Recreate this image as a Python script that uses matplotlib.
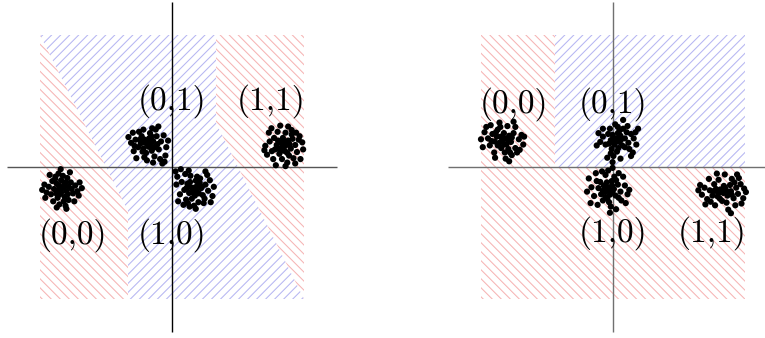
import numpy as np
import matplotlib
matplotlib.use("Agg")
import matplotlib.pyplot as plt
from matplotlib.patches import Polygon
from matplotlib.collections import LineCollection

W, H, DPI = 765, 338, 100
SCALE = 44.0  # pixels per data unit

# ---- decision regions (data units) ----
a_red_regions = [
    [(-3, 3), (-1, -1), (-1, -3), (-3, -3)],
    [(1, 3), (3, 3), (3, -3), (1, 1)],
]
a_blue_regions = [
    [(-3, 3), (1, 3), (1, 1), (3, -3), (-1, -3), (-1, -1)],
]
b_red_regions = [
    [(-3, 3), (-1.32, 3), (-1.32, 0), (3, 0), (3, -3), (-3, -3)],
]
b_blue_regions = [
    [(-1.32, 3), (3, 3), (3, 0), (-1.32, 0)],
]

# ---- cluster centres ----
a_centres = {"00": (-2.50, -0.48), "01": (-0.55, 0.50), "10": (0.50, -0.50), "11": (2.52, 0.48)}
b_centres = {"00": (-2.52, 0.61), "01": (0.07, 0.61), "10": (-0.11, -0.52), "11": (2.48, -0.57)}

# ---- sample offsets around each centre ----
a00 = [(0.00,0.00),(0.05,0.08),(-0.08,-0.04),(0.10,-0.07),(-0.12,0.10),(-0.02,0.18),(0.15,0.03),(-0.05,-0.14),(-0.18,-0.02),(0.06,-0.20),
       (0.20,0.13),(-0.22,0.16),(-0.10,-0.22),(0.12,0.23),(0.02,0.28),(-0.30,0.03),(0.25,-0.12),(-0.15,0.26),(0.15,-0.27),(-0.06,-0.37),
       (0.30,0.06),(-0.35,-0.10),(0.08,-0.40),(-0.20,-0.30),(0.35,-0.07),(-0.40,0.08),(-0.03,0.43),(-0.12,-0.44),(0.18,0.36),(0.40,0.13),
       (0.03,0.01),(-0.07,0.06),(-0.02,-0.10),(0.08,0.13),(-0.13,-0.12),(0.13,-0.14),(-0.25,-0.14),(0.22,-0.02),(-0.16,0.20),(0.04,-0.30),
       (0.45,0.00),(-0.28,0.30),(-0.45,-0.04),(0.10,-0.47),(-0.08,0.33),(0.28,-0.30),(0.38,-0.17),(-0.38,-0.22)]
a01 = [(0.00,0.00),(-0.06,0.05),(0.07,-0.03),(-0.10,-0.08),(0.12,0.09),(0.03,0.15),(-0.16,0.04),(0.09,-0.13),(0.18,-0.02),(-0.04,-0.18),
       (-0.22,-0.05),(0.20,0.20),(-0.14,0.20),(0.25,-0.10),(-0.28,0.12),(0.05,0.27),(-0.08,-0.28),(0.30,0.08),(-0.32,-0.14),(0.15,-0.26),
       (0.36,0.22),(-0.20,0.30),(0.10,0.38),(-0.38,0.05),(0.28,-0.32),(0.42,-0.05),(-0.26,-0.30),(0.18,0.35),(-0.44,0.18),(0.40,-0.24),
       (0.02,-0.04),(0.05,0.06),(-0.03,0.10),(-0.09,0.13),(0.14,-0.06),(-0.12,-0.15),(0.22,0.02),(-0.18,0.12),(0.08,0.20),(-0.02,-0.35),
       (0.46,0.10),(0.33,-0.42),(0.24,0.42),(-0.34,0.28),(0.38,-0.38),(-0.10,0.35),(0.12,-0.40),(-0.30,-0.02)]
a10 = [(0.00,0.00),(0.06,-0.05),(-0.07,0.04),(0.09,0.10),(-0.11,-0.09),(0.02,-0.15),(0.16,0.02),(-0.15,0.12),(0.04,0.19),(-0.05,-0.22),
       (0.20,-0.14),(-0.22,-0.02),(0.14,0.24),(-0.18,-0.24),(0.26,0.10),(-0.28,0.16),(0.10,-0.30),(-0.08,0.30),(0.32,-0.04),(-0.32,-0.12),
       (0.22,-0.32),(-0.20,0.34),(0.36,0.20),(-0.38,0.28),(-0.10,-0.40),(0.04,-0.45),(-0.42,0.40),(0.30,0.32),(0.42,-0.16),(-0.24,-0.36),
       (0.03,0.04),(-0.04,-0.08),(0.11,-0.10),(-0.09,0.16),(0.13,0.14),(-0.17,0.02),(0.07,0.28),(0.24,-0.22),(-0.14,-0.32),(0.18,0.05),
       (-0.40,0.10),(0.45,0.05),(0.00,-0.38),(-0.30,0.45),(0.38,-0.30),(-0.12,0.42),(0.26,0.40),(-0.36,-0.28)]
a11 = [(0.00,0.00),(-0.05,0.07),(0.08,0.02),(-0.09,-0.07),(0.05,-0.12),(0.12,0.12),(-0.14,0.02),(0.00,0.18),(0.18,-0.06),(-0.08,-0.18),
       (0.22,0.16),(-0.20,0.18),(0.14,-0.22),(-0.25,-0.12),(0.28,0.02),(0.06,0.30),(-0.12,0.32),(0.24,-0.28),(-0.30,0.10),(0.32,-0.14),
       (-0.22,-0.30),(0.36,0.14),(0.10,-0.38),(-0.06,0.46),(-0.36,-0.20),(0.40,-0.30),(0.20,0.36),(-0.40,0.00),(0.46,-0.08),(-0.16,-0.44),
       (0.02,-0.03),(0.04,0.10),(-0.03,-0.11),(0.15,0.04),(-0.11,0.12),(0.10,-0.16),(0.20,0.26),(-0.18,-0.08),(0.30,0.30),(-0.02,-0.30),
       (0.38,0.22),(-0.32,0.30),(0.28,-0.40),(0.12,0.44),(-0.26,0.40),(0.44,0.08),(0.06,-0.46),(-0.42,-0.10)]
b00 = [(0.00,0.00),(0.07,0.04),(-0.06,-0.06),(0.10,-0.09),(-0.12,0.08),(0.04,0.16),(-0.17,-0.03),(0.16,0.10),(-0.02,-0.18),(0.20,-0.04),
       (-0.22,0.14),(0.14,-0.20),(-0.10,0.24),(0.26,0.16),(-0.28,-0.12),(0.06,-0.28),(0.30,-0.18),(-0.32,0.04),(0.12,0.32),(-0.18,-0.28),
       (0.38,0.02),(-0.40,0.18),(0.22,-0.34),(-0.06,0.40),(0.44,0.12),(-0.44,-0.16),(0.08,-0.42),(0.30,0.30),(-0.26,0.34),(0.48,-0.10),
       (0.03,0.03),(-0.03,0.08),(0.05,-0.10),(-0.10,-0.12),(0.13,0.02),(-0.14,0.18),(0.22,0.06),(0.18,-0.28),(-0.24,-0.02),(-0.04,0.30),
       (0.34,-0.28),(-0.36,0.30),(0.40,-0.22),(0.16,-0.48),(-0.48,0.02),(0.26,0.42),(0.50,0.08),(-0.16,-0.40)]
b01 = [(0.00,0.00),(-0.06,0.06),(0.08,-0.04),(-0.04,-0.10),(0.10,0.10),(-0.12,0.00),(0.04,0.16),(0.14,-0.12),(-0.10,-0.20),(0.20,0.04),
       (-0.18,0.14),(0.02,-0.26),(0.24,0.18),(-0.24,-0.10),(0.28,-0.06),(-0.30,0.08),(0.16,0.26),(-0.06,-0.36),(0.34,0.14),(0.30,-0.20),
       (-0.36,-0.04),(0.40,0.04),(-0.14,0.26),(0.10,-0.42),(-0.20,-0.40),(0.44,0.18),(-0.02,0.36),(0.38,-0.28),(-0.40,0.16),(0.46,-0.10),
       (0.02,0.03),(0.06,0.06),(-0.02,-0.05),(-0.08,0.12),(0.12,0.02),(0.05,-0.18),(-0.16,-0.08),(0.20,-0.16),(0.08,0.22),(-0.12,-0.30),
       (0.26,0.32),(-0.30,0.26),(0.34,-0.36),(-0.08,-0.50),(0.16,0.46),(-0.44,-0.12),(0.50,0.26),(0.04,0.30)]
b10 = [(0.00,0.00),(0.06,0.06),(-0.07,-0.04),(0.04,-0.11),(-0.10,0.10),(0.13,0.02),(-0.03,0.17),(-0.16,-0.10),(0.17,-0.13),(0.08,0.20),
       (-0.22,0.04),(0.22,0.12),(-0.12,-0.24),(0.02,-0.28),(0.28,-0.04),(-0.26,0.20),(0.14,0.30),(-0.32,-0.14),(0.30,-0.24),(-0.06,0.34),
       (0.38,0.10),(-0.38,0.06),(0.06,-0.38),(0.24,0.38),(-0.24,-0.34),(0.44,-0.10),(-0.14,0.42),(0.40,-0.30),(-0.44,0.26),(0.00,0.44),
       (0.02,-0.03),(-0.03,0.06),(0.09,0.10),(-0.12,-0.02),(0.10,-0.05),(-0.06,-0.16),(0.18,0.22),(-0.18,0.18),(0.24,-0.18),(-0.02,-0.20),
       (0.48,0.00),(-0.40,-0.30),(0.18,-0.44),(0.34,0.30),(-0.28,0.38),(0.10,0.50),(-0.48,-0.04),(0.04,-0.52)]
b11 = [(0.00,0.00),(0.08,0.05),(-0.09,-0.03),(0.12,-0.08),(-0.14,0.07),(0.04,0.14),(0.20,0.02),(-0.05,-0.15),(-0.22,-0.08),(0.18,0.16),
       (-0.18,0.18),(0.26,-0.14),(-0.28,0.04),(0.10,-0.24),(0.32,0.10),(-0.34,-0.16),(-0.08,0.28),(0.36,-0.04),(0.22,0.30),(-0.40,0.10),
       (-0.16,-0.30),(0.42,0.18),(0.30,-0.30),(-0.46,-0.06),(0.48,-0.14),(0.06,0.40),(-0.30,0.30),(0.50,0.08),(-0.50,0.16),(0.14,-0.40),
       (0.03,-0.02),(-0.04,0.06),(0.07,0.09),(-0.10,-0.10),(0.14,0.00),(0.22,-0.06),(-0.20,0.02),(0.00,-0.20),(0.28,0.22),(-0.26,-0.22),
       (0.38,0.32),(-0.38,-0.28),(0.44,-0.26),(0.20,-0.48),(-0.12,0.42),(0.54,0.00),(-0.54,0.04),(0.34,0.40)]

# ---- labels ----
label_texts = ["(0,0)", "(0,1)", "(1,0)", "(1,1)"]
a_label_pos = [(-2.25, -1.73), (0.0, 1.30), (0.0, -1.73), (2.25, 1.30)]
b_label_pos = [(-2.25, 1.23), (0.0, 1.23), (0.0, -1.70), (2.25, -1.70)]

RED = "#f6b4b4"
BLUE = "#b6b6f2"
HATCH_STEP = 0.205


def make_axes(fig, x0, x1, y0, y1, cx, cy):
    ax = fig.add_axes([x0 / W, 1 - y1 / H, (x1 - x0) / W, (y1 - y0) / H])
    ax.set_xlim((x0 - cx) / SCALE, (x1 - cx) / SCALE)
    ax.set_ylim((cy - y1) / SCALE, (cy - y0) / SCALE)
    ax.set_axis_off()
    return ax


def hatch_region(ax, verts, color, slope):
    patch = Polygon(verts, closed=True, facecolor="none", edgecolor="none")
    ax.add_patch(patch)
    offsets = np.arange(-8, 8 + 1e-9, HATCH_STEP)
    xs = np.array([-3.5, 3.5])
    segs = [np.column_stack([xs, slope * xs + c]) for c in offsets]
    lc = LineCollection(segs, colors=color, linewidths=0.75, zorder=1)
    lc.set_clip_path(patch)
    ax.add_collection(lc)


def draw_panel(ax, reds, blues, centres, clusters, label_pos, vcol, hcol):
    for verts in reds:
        hatch_region(ax, verts, RED, -1.0)
    for verts in blues:
        hatch_region(ax, verts, BLUE, 1.0)
    ax.plot([-3.75, 3.75], [0, 0], color=hcol, lw=1.0, zorder=2, solid_capstyle="butt")
    ax.plot([0, 0], [-3.75, 3.75], color=vcol, lw=1.0, zorder=2, solid_capstyle="butt")
    for key, offs in clusters.items():
        cx, cy = centres[key]
        pts = np.array(offs)
        ax.scatter(pts[:, 0] + cx, pts[:, 1] + cy, s=20, color="black",
                   edgecolors="none", zorder=3)
    for text, (tx, ty) in zip(label_texts, label_pos):
        ax.text(tx, ty, text, ha="center", va="baseline", fontsize=24,
                family="cmr10", color="black", zorder=4)


fig = plt.figure(figsize=(W / DPI, H / DPI), dpi=DPI)
fig.patch.set_facecolor("white")

ax_a = make_axes(fig, 0, 382, 0, H, 172, 167)
draw_panel(ax_a, a_red_regions, a_blue_regions, a_centres,
           {"00": a00, "01": a01, "10": a10, "11": a11}, a_label_pos,
           vcol="#000000", hcol="#555555")

ax_b = make_axes(fig, 383, W, 0, H, 613, 167)
draw_panel(ax_b, b_red_regions, b_blue_regions, b_centres,
           {"00": b00, "01": b01, "10": b10, "11": b11}, b_label_pos,
           vcol="#707070", hcol="#707070")

fig.savefig("out.png", dpi=DPI, facecolor="white")
